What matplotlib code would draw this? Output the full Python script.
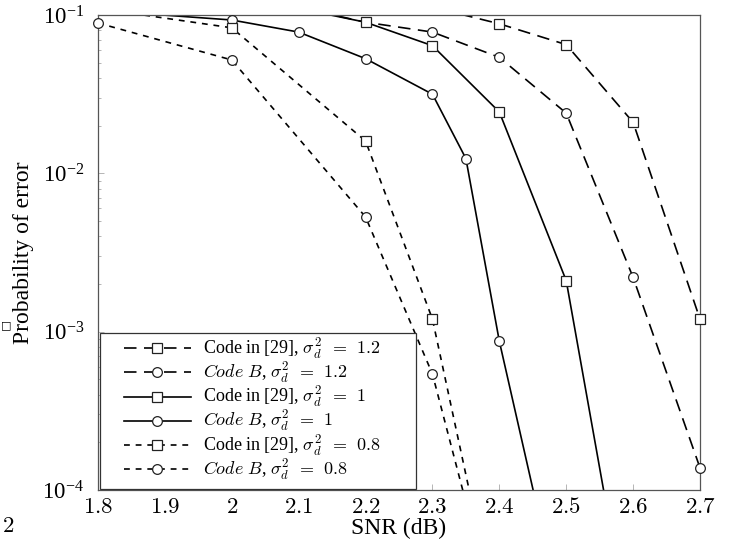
import numpy as np
import matplotlib
matplotlib.use("Agg")
import matplotlib.pyplot as plt
from matplotlib.lines import Line2D
from matplotlib.patches import Rectangle
from matplotlib.ticker import FixedLocator, FixedFormatter, LogLocator, NullFormatter

plt.rcParams['font.family'] = ['Liberation Serif', 'DejaVu Serif']
plt.rcParams['mathtext.fontset'] = 'cm'

# data (probability of error vs SNR)
snr_29_12 = [1.8, 2.0, 2.2, 2.3, 2.4, 2.5, 2.6, 2.7]
pe_29_12 = [0.15, 0.13, 0.12, 0.112, 0.088, 0.065, 0.021, 0.0012]

snr_B_12 = [1.8, 2.0, 2.1, 2.2, 2.3, 2.4, 2.5, 2.6, 2.7]
pe_B_12 = [0.14, 0.125, 0.112, 0.09, 0.078, 0.054, 0.024, 0.0022, 0.000138]

snr_29_10 = [1.8, 2.0, 2.1, 2.2, 2.3, 2.4, 2.5, 2.6]
pe_29_10 = [0.14, 0.12, 0.11, 0.09, 0.064, 0.0244, 0.0021, 9e-6]

snr_B_10 = [1.8, 2.0, 2.1, 2.2, 2.3, 2.35, 2.4, 2.5]
pe_B_10 = [0.107, 0.093, 0.078, 0.053, 0.0316, 0.0124, 0.00087, 1.2e-5]

snr_29_08 = [1.8, 2.0, 2.2, 2.3, 2.4]
pe_29_08 = [0.11, 0.083, 0.016, 0.0012, 1.3e-5]

snr_B_08 = [1.8, 2.0, 2.2, 2.3, 2.4]
pe_B_08 = [0.089, 0.052, 0.0053, 0.00054, 1.3e-5]

eq = r"\;\,=\;\,"
labels = [r"Code in [29], $\sigma_d^2" + eq + "1.2$",
          r"$\mathit{Code\ B}$, $\sigma_d^2" + eq + "1.2$",
          r"Code in [29], $\sigma_d^2" + eq + "1$",
          r"$\mathit{Code\ B}$, $\sigma_d^2" + eq + "1$",
          r"Code in [29], $\sigma_d^2" + eq + "0.8$",
          r"$\mathit{Code\ B}$, $\sigma_d^2" + eq + "0.8$"]

xticks = [1.8, 1.9, 2.0, 2.1, 2.2, 2.3, 2.4, 2.5, 2.6, 2.7]
xticklabels = ["$1.8$", "$1.9$", "$2$", "$2.1$", "$2.2$", "$2.3$",
               "$2.4$", "$2.5$", "$2.6$", "$2.7$"]

ymin, ymax = 1e-4, 1e-1

long_dash = (0, (7.5, 4.5))
short_dash = (0, (3.5, 3.5))

series = [
    (snr_29_12, pe_29_12, long_dash, 's'),
    (snr_B_12, pe_B_12, long_dash, 'o'),
    (snr_29_10, pe_29_10, '-', 's'),
    (snr_B_10, pe_B_10, '-', 'o'),
    (snr_29_08, pe_29_08, short_dash, 's'),
    (snr_B_08, pe_B_08, short_dash, 'o'),
]

fig = plt.figure(figsize=(7.35, 5.4), dpi=100)
ax = fig.add_axes([98 / 735, 50 / 540, 602 / 735, 475 / 540])

handles = []
for i, ((x, y, ls, mk), lab) in enumerate(zip(series, labels)):
    x = np.asarray(x)
    y = np.asarray(y)
    ms = 7 if mk == 'o' else 6.5
    mstyle = dict(marker=mk, markersize=ms, markerfacecolor='white',
                  markeredgecolor='#222222', markeredgewidth=0.9)
    ax.plot(x, y, linestyle=ls, color='black', lw=1.2, zorder=2 + i * 0.1)
    # markers are not clipped at the frame (like pgfplots), only hidden outside
    inside = (y >= ymin) & (y <= ymax)
    ax.plot(x[inside], y[inside], linestyle='none', clip_on=False,
            zorder=3 + i * 0.1, **mstyle)
    handles.append(Line2D([], [], linestyle=ls, color='black', lw=1.2,
                          label=lab, **mstyle))

ax.set_yscale('log')
ax.set_xlim(1.8, 2.7)
ax.set_ylim(ymin, ymax)

ax.xaxis.set_major_locator(FixedLocator(xticks))
ax.xaxis.set_major_formatter(FixedFormatter(xticklabels))
ax.yaxis.set_major_locator(LogLocator(base=10, numticks=10))
ax.yaxis.set_minor_locator(LogLocator(base=10, subs=np.arange(2, 10), numticks=10))
ax.yaxis.set_minor_formatter(NullFormatter())

ax.tick_params(axis='both', which='major', direction='in', length=4,
               width=0.6, color='#aaaaaa', labelsize=16.5)
ax.tick_params(axis='y', which='minor', direction='in', length=2.5,
               width=0.6, color='#aaaaaa')
ax.tick_params(axis='x', pad=5)
ax.tick_params(axis='y', pad=10)

for sp in ax.spines.values():
    sp.set_color('#555555')
    sp.set_linewidth(0.9)

ax.set_xlabel("SNR (dB)", fontsize=17, labelpad=0)
ax.set_ylabel("Probability of error", fontsize=17, labelpad=6)

# legend box: white frame drawn separately, entries placed inside it
box = Rectangle((0.0033, 0.002), 0.525, 0.3285, transform=ax.transAxes,
                facecolor='white', edgecolor='#333333', linewidth=0.9,
                zorder=9, clip_on=False)
ax.add_patch(box)
leg = ax.legend(handles=handles, loc='upper left',
                bbox_to_anchor=(0.043, 0.323), fontsize=13, frameon=False,
                handlelength=3.7, handletextpad=0.7, borderpad=0,
                borderaxespad=0, labelspacing=-0.05, numpoints=1)
leg.set_zorder(10)

# fragments of the neighbouring figure at the left edge
fig.text(8 / 735, 1 - 526 / 540, "$2$", fontsize=16.5, ha='center', va='center')
fig.text(0.5 / 735, 1 - 325 / 540, "\u25a1", fontsize=8, ha='left', va='center',
         family='DejaVu Sans')

fig.savefig("out.png", dpi=100)
